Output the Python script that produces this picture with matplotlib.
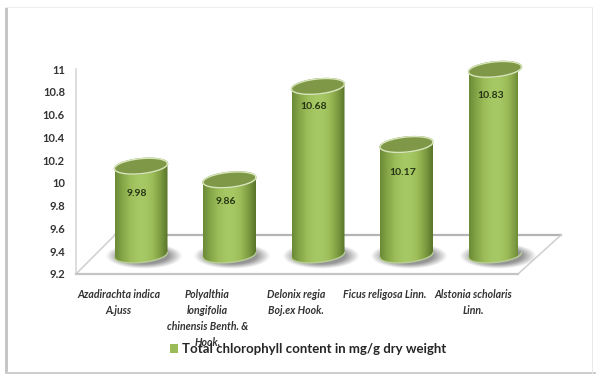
import numpy as np
import matplotlib
matplotlib.use('Agg')
import matplotlib.pyplot as plt
from matplotlib.colors import LinearSegmentedColormap
from matplotlib.patches import Patch, PathPatch, Rectangle
from matplotlib.path import Path

plt.rcParams['font.family'] = ['Lato', 'DejaVu Sans']

species = ['Azadirachta indica\nA.juss',
           'Polyalthia\nlongifolia\nchinensis Benth. &\nHook.',
           'Delonix regia\nBoj.ex Hook.',
           'Ficus religosa Linn.',
           'Alstonia scholaris\nLinn.']
chlorophyll = [9.98, 9.86, 10.68, 10.17, 10.83]
y_ticks = [9.2, 9.4, 9.6, 9.8, 10, 10.2, 10.4, 10.6, 10.8, 11]
y_tick_labels = ['9.2', '9.4', '9.6', '9.8', '10', '10.2', '10.4', '10.6', '10.8', '11']
series_name = 'Total chlorophyll content in mg/g dry weight'

W, H = 596, 374
fig = plt.figure(figsize=(W / 100, H / 100), dpi=100)
ax = fig.add_axes([76 / W, 1 - 274 / H, 442 / W, 205 / H])

# pixels per data unit, used to keep the 3D look in proportion
px_x = 88.5
px_y = 205 / 1.8
xmin, xmax = -65 / px_x, 377 / px_x
lift = 19 / px_y  # cylinders stand back from the front edge of the floor
half_w = 26.5 / px_x
ell_b = 7.5 / px_y
ell_k = 2.5 / px_y
base = 9.2 + lift

# floor and wall lines
dx, dy = 43 / px_x, 39 / px_y
ax.plot([xmin + 0.44, xmax + dx], [9.2 + dy, 9.2 + dy], color='#b4b4b4', lw=1.6, clip_on=False, zorder=1)
ax.plot([xmax, xmax + dx], [9.2, 9.2 + dy], color='#cfcfcf', lw=1.1, clip_on=False, zorder=1)
ax.plot([xmin, xmin + 0.44], [9.2, 9.2 + dy], color='#cfcfcf', lw=1.1, clip_on=False, zorder=1)

green = LinearSegmentedColormap.from_list('cyl', ['#6b8a36', '#86a648', '#9cbd59', '#a6c864', '#a6c864', '#9cbc58', '#7f9d42', '#587529'])


def ellipse_pts(cx, cy, t):
    return cx + half_w * np.cos(t), cy + ell_b * np.sin(t) + ell_k * np.cos(t)


for i, v in enumerate(chlorophyll):
    cx = i
    top = v + lift
    # soft shadow on the floor
    sx = np.linspace(cx - half_w * 1.6, cx + half_w * 1.6, 120)
    sy = np.linspace(base - 0.15, base + 0.15, 60)
    gx, gy = np.meshgrid(sx, sy)
    r = np.sqrt(((gx - cx - 0.03) / (half_w * 1.32)) ** 2 + ((gy - base + 0.012) / (11.5 / px_y)) ** 2)
    shadow = np.zeros(gx.shape + (4,))
    shadow[..., :3] = 0.45
    shadow[..., 3] = np.clip((1.1 - r) / 0.4, 0, 1) * 0.75
    ax.imshow(shadow, extent=[sx[0], sx[-1], sy[0], sy[-1]], origin='lower', aspect='auto', zorder=2, clip_on=False)

    # cylinder body, shaded from the left edge to the right edge
    t_bot = np.linspace(0, -np.pi, 60)
    bx, by = ellipse_pts(cx, base, t_bot)
    t_top = np.linspace(np.pi, 0, 60)
    tx, ty = ellipse_pts(cx, top, t_top)
    verts = np.column_stack([np.r_[bx, tx], np.r_[by, ty]])
    body = Path(np.vstack([verts, verts[0]]), closed=True)
    shade = np.linspace(0, 1, 128).reshape(1, -1)
    img = ax.imshow(shade, extent=[cx - half_w, cx + half_w, base - ell_b * 1.5, top + ell_b * 1.5],
                    cmap=green, aspect='auto', zorder=3, clip_on=True)
    outline = PathPatch(body, fc='none', ec='none', transform=ax.transData)
    ax.add_patch(outline)
    img.set_clip_path(outline)

    # light rim along the bottom
    ax.plot(bx, by, color='#b9cd97', lw=1.0, zorder=4, clip_on=False, solid_capstyle='round')

    # top face
    t = np.linspace(0, 2 * np.pi, 120)
    ex, ey = ellipse_pts(cx, top, t)
    ax.fill(ex, ey, color='#7f9848', zorder=5, clip_on=False)
    ax.plot(ex, ey, color='#d8e6bb', lw=1.0, zorder=6, clip_on=False)

label_drop = [27, 22, 20, 28, 26]
for i, v in enumerate(chlorophyll):
    ax.annotate('{:.2f}'.format(v), (i, v + lift), xytext=(-4 * 0.72, -label_drop[i] * 0.72), textcoords='offset points',
                ha='center', va='center', fontsize=7.5, fontweight='bold', color='#243314', zorder=7, annotation_clip=False)

ax.set_xlim(xmin, xmax)
ax.set_ylim(9.2, 11)
ax.patch.set_alpha(0)
for side in ['top', 'right']:
    ax.spines[side].set_visible(False)
ax.spines['left'].set_color('#d4d4d4')
ax.spines['left'].set_linewidth(1.1)
ax.spines['bottom'].set_color('#c4c4c4')
ax.spines['bottom'].set_linewidth(1.6)

ax.set_yticks(y_ticks)
ax.set_yticklabels(y_tick_labels, fontsize=8, fontweight='bold', color='#333333')
ax.tick_params(axis='y', length=0, pad=8)
# the category labels sit on the front edge of the floor, left of the cylinders
ax.set_xticks(np.arange(len(species)) - 0.25)
ax.set_xticklabels(species, fontsize=7.6, fontweight='bold', fontstyle='italic', color='#333333', linespacing=1.55)
ax.tick_params(axis='x', length=0, pad=11)

leg = fig.legend(handles=[Patch(fc='#9bbb59', ec='none', label=series_name)], loc='center left',
                 bbox_to_anchor=(170 / W, 1 - 349 / H), frameon=False, handlelength=0.62, handleheight=0.62,
                 handletextpad=0.3, borderpad=0, borderaxespad=0, prop={'size': 9.5, 'weight': 'bold'})
leg.get_texts()[0].set_color('#262626')
leg.set_zorder(5)

# page frame round the chart
fig.add_artist(Rectangle((5 / W, 0), 2.5 / W, 1 - 7 / H, fc='#c6c6c6', ec='none', transform=fig.transFigure))
fig.add_artist(Rectangle((5 / W, 0), 1 - 5 / W, 2.5 / H, fc='#cdcdcd', ec='none', transform=fig.transFigure))
fig.add_artist(Rectangle((5 / W, 1 - 8 / H), 1 - 8 / W, 1 / H, fc='#eeeeee', ec='none', transform=fig.transFigure))
fig.add_artist(Rectangle((592 / W, 0), 1 / W, 1 - 8 / H, fc='#e8e8e8', ec='none', transform=fig.transFigure))

fig.savefig('out.png', dpi=100)
